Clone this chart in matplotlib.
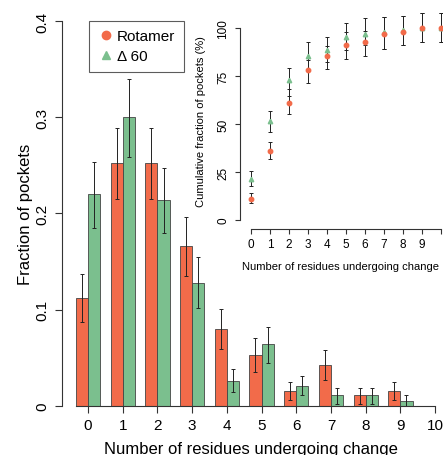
import matplotlib
matplotlib.use("Agg")
import matplotlib.pyplot as plt
from matplotlib.lines import Line2D
import numpy as np

plt.rcParams['font.family'] = ['Liberation Sans', 'DejaVu Sans']

# main histogram data
residues = list(range(11))
rot_frac = [0.112, 0.252, 0.252, 0.166, 0.080, 0.053, 0.016, 0.043, 0.011, 0.016, 0.0]
rot_lo   = [0.087, 0.215, 0.215, 0.135, 0.059, 0.035, 0.006, 0.027, 0.002, 0.006, 0.0]
rot_hi   = [0.137, 0.289, 0.289, 0.196, 0.101, 0.071, 0.025, 0.058, 0.019, 0.025, 0.0]
d60_frac = [0.220, 0.300, 0.214, 0.128, 0.026, 0.064, 0.021, 0.011, 0.011, 0.005, 0.0]
d60_lo   = [0.185, 0.259, 0.180, 0.102, 0.015, 0.045, 0.011, 0.002, 0.002, 0.000, 0.0]
d60_hi   = [0.254, 0.340, 0.247, 0.155, 0.038, 0.082, 0.031, 0.019, 0.019, 0.011, 0.0]

# inset cumulative data (%)
rot_cum    = [10.9, 36.1, 61.1, 78.1, 85.6, 91.1, 92.5, 96.9, 98.0, 99.8, 100.0]
rot_cum_lo = [8.7, 31.6, 55.2, 71.2, 78.6, 83.9, 85.6, 89.0, 91.3, 92.5, 92.5]
rot_cum_hi = [14.0, 40.5, 68.2, 83.3, 90.8, 97.8, 98.6, 105.6, 106.0, 107.8, 107.8]
d60_cum    = [21.4, 51.4, 72.9, 85.2, 88.5, 95.1, 96.9, 98.0, 99.0, 100.0, 100.0]
d60_cum_lo = [17.5, 46.0, 64.4, 77.9, 82.1, 88.7, 91.3, 89.0, 91.3, 92.5, 92.5]
d60_cum_hi = [25.3, 57.0, 79.3, 92.6, 95.2, 102.6, 105.2, 105.6, 106.0, 107.8, 107.8]

red = '#F26B4A'
green = '#7BBF8E'

fig = plt.figure(figsize=(4.46, 4.56), dpi=100)
ax = fig.add_axes([0.139, 0.1075, 0.8475, 0.8443])

x = np.array(residues)
w = 0.35
rf = np.array(rot_frac); gf = np.array(d60_frac)
has = rf > 0
has2 = gf > 0
ax.bar(x[has] - w / 2, rf[has], w, color=red, edgecolor='#444444', linewidth=0.6)
ax.bar(x[has2] + w / 2, gf[has2], w, color=green, edgecolor='#444444', linewidth=0.6)
ax.errorbar(x[has] - w / 2, rf[has],
            yerr=[rf[has] - np.array(rot_lo)[has], np.array(rot_hi)[has] - rf[has]],
            fmt='none', ecolor='#222222', elinewidth=0.7, capsize=1.5, capthick=0.7)
ax.errorbar(x[has2] + w / 2, gf[has2],
            yerr=[gf[has2] - np.array(d60_lo)[has2], np.array(d60_hi)[has2] - gf[has2]],
            fmt='none', ecolor='#222222', elinewidth=0.7, capsize=1.5, capthick=0.7)

ax.set_xlim(-0.75, 10.14)
ax.set_ylim(0, 0.4)
ax.spines['top'].set_visible(False)
ax.spines['right'].set_visible(False)
ax.spines['bottom'].set_bounds(-0.35, 10)
for s in ['left', 'bottom']:
    ax.spines[s].set_linewidth(0.8)
    ax.spines[s].set_color('#333333')
ax.set_xticks(residues)
ax.set_yticks([0, 0.1, 0.2, 0.3, 0.4])
ax.set_yticklabels(['0', '0.1', '0.2', '0.3', '0.4'], rotation=90, va='center')
ax.tick_params(axis='both', labelsize=11, length=5, width=0.8, color='#333333', pad=4)
ax.tick_params(axis='y', pad=4)
ax.set_xlabel('Number of residues undergoing change', fontsize=12, labelpad=6)
ax.set_ylabel('Fraction of pockets', fontsize=12, labelpad=2)

# legend
handles = [Line2D([], [], marker='o', color=red, linestyle='none', markersize=6),
           Line2D([], [], marker='^', color=green, linestyle='none', markersize=6)]
leg = ax.legend(handles, ['Rotamer', '\u0394 60'], loc='upper left',
                bbox_to_anchor=(0.071, 1.0), borderaxespad=0, fontsize=11,
                frameon=True, fancybox=False, edgecolor='#333333',
                handletextpad=0.1, borderpad=0.55, handlelength=1.2,
                labelspacing=0.4)
leg.get_frame().set_linewidth(0.8)

# inset
ins = fig.add_axes([0.538, 0.4956, 0.453, 0.4746])
ins.patch.set_alpha(0)
ins.errorbar(x, rot_cum, yerr=[np.array(rot_cum) - np.array(rot_cum_lo),
                               np.array(rot_cum_hi) - np.array(rot_cum)],
             fmt='none', ecolor='#222222', elinewidth=0.7, capsize=1.2, capthick=0.7)
ins.errorbar(x, d60_cum, yerr=[np.array(d60_cum) - np.array(d60_cum_lo),
                               np.array(d60_cum_hi) - np.array(d60_cum)],
             fmt='none', ecolor='#222222', elinewidth=0.7, capsize=1.2, capthick=0.7)
ins.plot(x, d60_cum, '^', color=green, markersize=3.2, linestyle='none')
ins.plot(x, rot_cum, 'o', color=red, markersize=3.2, linestyle='none')
ins.set_xlim(-0.58, 10.05)
ins.set_ylim(-4.7, 108)
ins.spines['top'].set_visible(False)
ins.spines['right'].set_visible(False)
ins.spines['bottom'].set_bounds(0, 10)
ins.spines['left'].set_bounds(0, 100)
for s in ['left', 'bottom']:
    ins.spines[s].set_linewidth(0.8)
    ins.spines[s].set_color('#333333')
ins.set_xticks(residues)
ins.set_xticklabels([str(i) for i in range(10)] + [''])
ins.set_yticks([0, 25, 50, 75, 100])
ins.set_yticklabels(['0', '25', '50', '75', '100'], rotation=90, va='center')
ins.tick_params(axis='both', labelsize=8.5, length=3.5, width=0.8, color='#333333', pad=3)
ins.tick_params(axis='y', pad=4)
ins.set_xlabel('Number of residues undergoing change', fontsize=8, labelpad=8)
ins.set_ylabel('Cumulative fraction of pockets (%)', fontsize=8, labelpad=8)

fig.savefig('out.png', dpi=100)
